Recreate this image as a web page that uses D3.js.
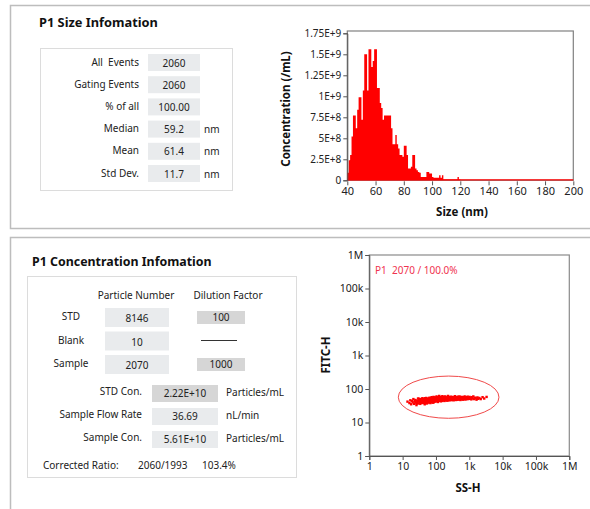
<!DOCTYPE html>
<html><head><meta charset="utf-8">
<script src="https://cdn.jsdelivr.net/npm/d3@7"></script>
<style>
body{margin:0;background:#fff;}
svg{display:block;font-family:"Noto Sans","Open Sans",sans-serif;}
</style></head>
<body><svg id="c" width="590" height="509"></svg>
<script>
// ---------- DATA ----------
const sizeRows = [
  {label:"All  Events", value:"2060", unit:""},
  {label:"Gating Events", value:"2060", unit:""},
  {label:"% of all", value:"100.00", unit:""},
  {label:"Median", value:"59.2", unit:"nm"},
  {label:"Mean", value:"61.4", unit:"nm"},
  {label:"Std Dev.", value:"11.7", unit:"nm"}
];
// histogram: bin start (nm), bin width 1 nm
const binStart = 40;
const concValues = [
  0.09e9,0.24e9,0.30e9,0.52e9,0.77e9,0.77e9,0.62e9,0.84e9,0.99e9,0.99e9,
  0.72e9,1.07e9,1.50e9,1.50e9,1.07e9,1.56e9,1.56e9,1.35e9,1.42e9,1.56e9,
  1.56e9,1.10e9,1.10e9,0.92e9,0.86e9,0.72e9,0.77e9,0.77e9,0.77e9,0.77e9,
  0.77e9,0.62e9,0.43e9,0.43e9,0.54e9,0.43e9,0.38e9,0.30e9,0.30e9,0.28e9,
  0.41e9,0.41e9,0.30e9,0.14e9,0.14e9,0.16e9,0.30e9,0.30e9,0.14e9,0.12e9,
  0.10e9,0.09e9,0.04e9,0.04e9,0.04e9,0.04e9,0.10e9,0.10e9,0.08e9,0.08e9,
  0.04e9,0.03e9,0.03e9,0.03e9,0.03e9,0.06e9,0.03e9,0.06e9,0.01e9,0.01e9,
  0.01e9,0.01e9,0.01e9,0.01e9,0.01e9,0.01e9,0.01e9,0.01e9,0.04e9,0.01e9
];
const histXTicks = [40,60,80,100,120,140,160,180,200];
const histYTicks = [0,2.5e8,5e8,7.5e8,1e9,1.25e9,1.5e9,1.75e9];
const histYLabels = ["0","2.5E+8","5E+8","7.5E+8","1E+9","1.25E+9","1.5E+9","1.75E+9"];

const concHeaders = ["Particle Number","Dilution Factor"];
const concRows = [
  {label:"STD", number:"8146", dilution:"100"},
  {label:"Blank", number:"10", dilution:null},
  {label:"Sample", number:"2070", dilution:"1000"}
];
const concCalc = [
  {label:"STD Con.", value:"2.22E+10", unit:"Particles/mL", dark:true},
  {label:"Sample Flow Rate", value:"36.69", unit:"nL/min", dark:false},
  {label:"Sample Con.", value:"5.61E+10", unit:"Particles/mL", dark:false}
];
const correctedRatio = ["Corrected Ratio:", "2060/1993", "103.4%"];

const logTicks = [1,10,100,1e3,1e4,1e5,1e6];
const logLabels = ["1","10","100","1k","10k","100k","1M"];
const gateLabel = "P1  2070 / 100.0%";
const gate = {cx:240, cy:57, rx:1.51, ry:0.63}; // center in data units, radii in decades
const events = [
[14,42],[16,38],[17,46],[18,35],[19,44],[20,40],[21,50],[22,36],[23,43],[24,47],[25,39],[26,33],[27,45],[28,41],[29,52],[30,37],
[31,44],[32,48],[33,40],[34,36],[35,50],[36,43],[37,46],[38,39],[39,53],[40,42],[41,47],[42,38],[43,45],[44,51],[45,41],[46,35],[47,49],[48,44],[49,40],[50,46],[51,54],[52,42],[53,48],[54,37],[55,45],[56,51],[57,43],[58,47],[59,40],[60,52],
[61,45],[62,49],[63,41],[64,55],[65,47],[66,43],[67,50],[68,38],[69,46],[70,53],[71,44],[72,48],[73,41],[74,57],[75,46],[76,50],[77,43],[78,52],[79,47],[80,39],[81,55],[82,45],[83,49],[84,42],[85,58],[86,47],[87,51],[88,44],[89,53],[90,46],[92,49],[94,42],[95,56],[96,48],[98,45],[100,52],[102,47],[104,60],[105,43],[106,50],[108,46],[110,54],[112,48],[114,41],[115,57],[116,50],[118,45],[120,53],
[122,48],[125,62],[127,44],[130,51],[132,47],[135,55],[138,49],[140,43],[143,58],[145,50],[148,46],[150,53],[153,48],[156,61],[158,45],[160,52],[163,49],[166,55],[170,47],[173,58],[176,51],[180,44],[183,54],[186,49],[190,60],[194,46],[198,52],[202,48],[206,56],[210,50],[215,45],[220,54],[225,49],[230,62],[235,47],[240,53],[245,50],[250,57],[256,46],[262,52],[268,49],[275,59],[282,51],[290,47],[298,55],
[305,50],[312,58],[320,48],[330,53],[340,46],[350,56],[360,51],[370,61],[380,49],[390,54],[400,47],[412,57],[425,52],[438,48],[450,59],[465,51],[480,55],[495,49],[510,60],[525,53],[540,47],[560,56],[580,51],[600,58],[620,50],[640,55],[660,48],[680,57],[700,52],[725,60],[750,50],[775,55],[800,49],[830,57],[860,52],[890,59],[920,50],[950,55],[980,53],
[1020,58],[1060,51],[1100,55],[1150,49],[1200,57],[1260,52],[1320,60],[1400,50],[1480,55],[1560,53],[1650,48],[1750,56],[1850,51],[2000,54],[2200,50],[2500,57],[2800,52],[3300,58],
[33,47],[36,39],[39,45],[42,50],[45,44],[48,38],[52,46],[55,41],[58,50],[62,44],[66,52],[70,41],[74,48],[78,45],[82,51],[86,40],[90,54],[95,45],[100,48],[105,55],[110,44],[115,51],[120,47],[128,54],[136,46],[144,51],[152,44],[160,57],[170,50],[180,53],[190,48],[200,55],[215,51],[230,46],[245,55],[260,48],[280,53],[300,47],[320,55],[345,50],[370,53],[400,52],[430,55],[460,49],[500,52],[540,57],[580,49],[630,53],[680,51],[740,54],
[24,42],[27,37],[31,51],[35,46],[38,42],[43,40],[47,53],[51,44],[56,47],[61,40],[65,50],[69,43],[73,52],[77,47],[81,42],[85,49],[91,51],[97,50],[103,45],[109,52],[117,48],[124,51],[133,49],[141,53],[149,49],[157,54],[168,52],[178,48],[188,55],[197,50],[212,53],[228,51],[242,48],[258,55],[272,50],[288,54],[310,52],[335,49],[355,54],[385,52],[420,50],[455,54],[490,52],[530,50],[570,54],[610,52],[660,55],[720,50],[790,53],[870,55]
];

// ---------- DRAW ----------
const svg = d3.select("#c");
const txt = "#222";
const boxFill = "#e9ebed", darkFill = "#d6d6d6";

// panels
svg.append("rect").attr("x",10.5).attr("y",5.5).attr("width",600).attr("height",223)
  .attr("fill","#fff").attr("stroke","#bdbdbd").attr("stroke-width",1.5);
svg.append("rect").attr("x",10.5).attr("y",237.5).attr("width",600).attr("height",290)
  .attr("fill","#fff").attr("stroke","#bdbdbd").attr("stroke-width",1.5);

// ---- Size info ----
svg.append("text").attr("x",39).attr("y",27).attr("font-size",12.8).attr("font-weight","bold")
  .attr("fill","#111").text("P1 Size Infomation");
svg.append("rect").attr("x",40.5).attr("y",48.5).attr("width",192).attr("height",142)
  .attr("fill","none").attr("stroke","#dcdcdc");
const rowY = d3.scaleLinear().domain([0,5]).range([62,173]);
const sg = svg.append("g").attr("font-size",10).attr("fill",txt);
sizeRows.forEach((r,i)=>{
  const cy = rowY(i);
  sg.append("text").attr("x",139).attr("y",cy+3.5).attr("text-anchor","end").style("white-space","pre").text(r.label);
  sg.append("rect").attr("x",148).attr("y",cy-8).attr("width",52).attr("height",17).attr("fill",boxFill);
  sg.append("text").attr("x",174).attr("y",cy+4.5).attr("text-anchor","middle").text(r.value);
  if(r.unit) sg.append("text").attr("x",204).attr("y",cy+4.5).text(r.unit);
});

// ---- Histogram ----
const hx = d3.scaleLinear().domain([40,200]).range([347.3,573.3]);
const hy = d3.scaleLinear().domain([0,1.75e9]).range([180.3,33.3]);
const hg = svg.append("g");
hg.append("rect").attr("x",hx(40)).attr("y",31).attr("width",hx(200)-hx(40)).attr("height",hy(0)-31)
  .attr("fill","#fff").attr("stroke","#808080").attr("stroke-width",1.2);
const histPts = concValues.map((v,i)=>[binStart+i,v]).concat([[binStart+concValues.length,0]]);
hg.append("path").datum(histPts)
  .attr("d",d3.area().x(d=>hx(d[0])).y0(hy(0)).y1(d=>hy(d[1])).curve(d3.curveStepAfter))
  .attr("fill","#ff0000");
hg.append("line").attr("x1",hx(40)).attr("x2",hx(200)).attr("y1",hy(0)-0.5).attr("y2",hy(0)-0.5)
  .attr("stroke","#ff0000").attr("stroke-width",1.2);
const hax = hg.append("g").attr("transform",`translate(${hx(40)},0)`)
  .call(d3.axisLeft(hy).tickValues(histYTicks).tickFormat((d,i)=>histYLabels[i]).tickSize(4).tickPadding(2));
const hbx = hg.append("g").attr("transform",`translate(0,${hy(0)+1})`)
  .call(d3.axisBottom(hx).tickValues(histXTicks).tickSize(4).tickPadding(2));
[hax,hbx].forEach(a=>{
  a.select(".domain").attr("stroke","#555");
  a.selectAll(".tick line").attr("stroke","#555");
  a.selectAll(".tick text").attr("font-size",10).attr("fill",txt).attr("font-family","Noto Sans, sans-serif");
});
hbx.select(".domain").remove();
hbx.selectAll(".tick text").attr("font-size",11);
hg.append("text").attr("x",462).attr("y",216).attr("text-anchor","middle").attr("font-size",11.5)
  .attr("font-weight","bold").attr("fill","#111").text("Size (nm)");
hg.append("text").attr("transform","translate(290,109) rotate(-90)").attr("text-anchor","middle")
  .attr("font-size",11.5).attr("font-weight","bold").attr("fill","#111").text("Concentration (/mL)");

// ---- Concentration info ----
svg.append("text").attr("x",32).attr("y",266).attr("font-size",12.4).attr("font-weight","bold")
  .attr("fill","#111").text("P1 Concentration Infomation");
svg.append("rect").attr("x",27.5).attr("y",276.5).attr("width",269).attr("height",201)
  .attr("fill","none").attr("stroke","#dcdcdc");
const cg = svg.append("g").attr("font-size",10).attr("fill",txt);
cg.append("text").attr("x",136).attr("y",299).attr("text-anchor","middle").text(concHeaders[0]);
cg.append("text").attr("x",228).attr("y",299).attr("text-anchor","middle").text(concHeaders[1]);
const cRowY = d3.scaleLinear().domain([0,2]).range([317,364]);
concRows.forEach((r,i)=>{
  const cy = cRowY(i);
  cg.append("text").attr("x",71).attr("y",cy+3).attr("text-anchor","middle").text(r.label);
  cg.append("rect").attr("x",105).attr("y",cy-9).attr("width",64).attr("height",19).attr("fill",boxFill);
  cg.append("text").attr("x",137).attr("y",cy+5).attr("text-anchor","middle").text(r.number);
  if(r.dilution){
    cg.append("rect").attr("x",197).attr("y",cy-6).attr("width",48).attr("height",13).attr("fill",darkFill);
    cg.append("text").attr("x",221).attr("y",cy+4).attr("text-anchor","middle").text(r.dilution);
  } else {
    cg.append("line").attr("x1",201).attr("x2",237).attr("y1",cy).attr("y2",cy).attr("stroke","#333");
  }
});
const calcY = d3.scaleLinear().domain([0,2]).range([393,439]);
concCalc.forEach((r,i)=>{
  const cy = calcY(i);
  cg.append("text").attr("x",142).attr("y",cy+2).attr("text-anchor","end").text(r.label);
  cg.append("rect").attr("x",152).attr("y",cy-8).attr("width",66).attr("height",17).attr("fill",r.dark?darkFill:boxFill);
  cg.append("text").attr("x",185).attr("y",cy+4).attr("text-anchor","middle").text(r.value);
  cg.append("text").attr("x",226).attr("y",cy+3).text(r.unit);
});
cg.append("text").attr("x",43).attr("y",469).text(correctedRatio[0]);
cg.append("text").attr("x",138).attr("y",469).text(correctedRatio[1]);
cg.append("text").attr("x",202).attr("y",469).text(correctedRatio[2]);

// ---- Scatter ----
const sx = d3.scaleLog().domain([1,1e6]).range([369.3,569.3]);
const sy = d3.scaleLog().domain([1,1e6]).range([456,255]);
const pg = svg.append("g");
pg.append("rect").attr("x",sx(1)).attr("y",sy(1e6)).attr("width",sx(1e6)-sx(1)).attr("height",sy(1)-sy(1e6))
  .attr("fill","#fff").attr("stroke","#8a8a8a").attr("stroke-width",1.2);
pg.selectAll("rect.ev").data(events).join("rect").attr("class","ev")
  .attr("x",d=>sx(d[0])-1.2).attr("y",d=>sy(d[1])-1.2).attr("width",2.4).attr("height",2.4).attr("fill","#ff0000");
// gate ellipse (in log space)
const lcx = Math.log10(gate.cx), lcy = Math.log10(gate.cy);
pg.append("ellipse").attr("cx",sx(gate.cx)).attr("cy",sy(gate.cy))
  .attr("rx",sx(Math.pow(10,lcx+gate.rx))-sx(gate.cx))
  .attr("ry",sy(gate.cy)-sy(Math.pow(10,lcy+gate.ry)))
  .attr("fill","none").attr("stroke","#f04a4a").attr("stroke-width",1);
const pax = pg.append("g").attr("transform",`translate(${sx(1)},0)`)
  .call(d3.axisLeft(sy).tickValues(logTicks).tickFormat((d,i)=>logLabels[i]).tickSize(4).tickPadding(2));
const pbx = pg.append("g").attr("transform",`translate(0,${sy(1)})`)
  .call(d3.axisBottom(sx).tickValues(logTicks).tickFormat((d,i)=>logLabels[i]).tickSize(4).tickPadding(3));
[pax,pbx].forEach(a=>{
  a.select(".domain").attr("stroke","#555");
  a.selectAll(".tick line").attr("stroke","#555");
  a.selectAll(".tick text").attr("font-size",10.5).attr("fill",txt).attr("font-family","Noto Sans, sans-serif");
});
pg.append("text").attr("x",375).attr("y",274).attr("font-size",10).attr("fill","#f0334f")
  .style("white-space","pre").text(gateLabel);
pg.append("text").attr("x",468).attr("y",492).attr("text-anchor","middle").attr("font-size",11.5)
  .attr("font-weight","bold").attr("fill","#111").text("SS-H");
pg.append("text").attr("transform","translate(330,355) rotate(-90)").attr("text-anchor","middle")
  .attr("font-size",11.5).attr("font-weight","bold").attr("fill","#111").text("FITC-H");
</script></body></html>
